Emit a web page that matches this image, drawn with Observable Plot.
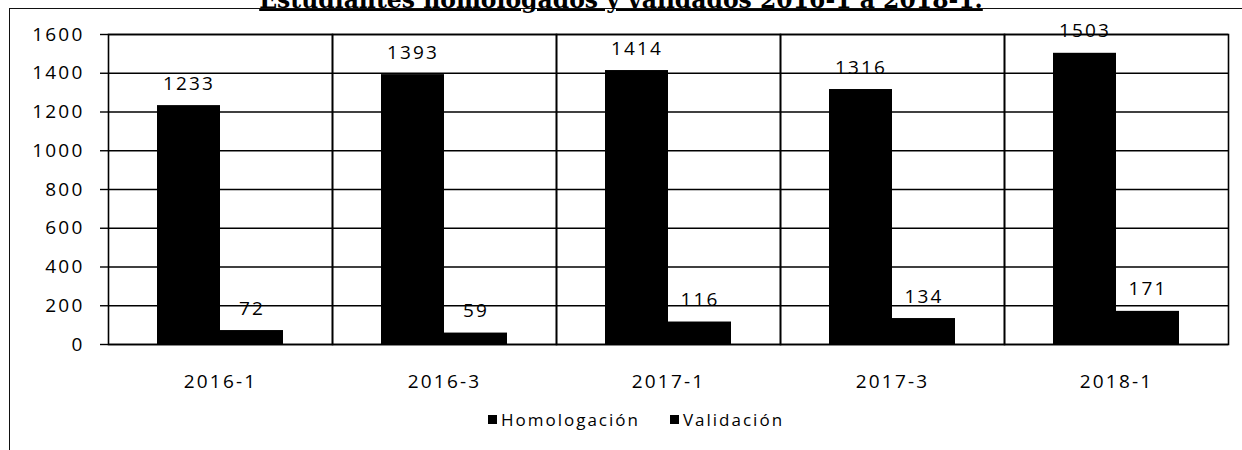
<!DOCTYPE html>
<html>
<head>
<meta charset="utf-8">
<script src="https://cdn.jsdelivr.net/npm/d3@7"></script>
<script src="https://cdn.jsdelivr.net/npm/@observablehq/plot@0.6"></script>
<style>
  html, body { margin: 0; padding: 0; background: #fff; overflow: hidden; }
  body { width: 1242px; height: 450px; position: relative; }
  #box { position: absolute; left: 9px; top: 8px; width: 1400px; height: 600px;
         border-left: 1.5px solid #111; border-top: 1.5px solid #111; }
  #title { position: absolute; left: 0; width: 1242px; top: -12px; text-align: center;
           font-family: "DejaVu Serif", serif; font-weight: bold; font-size: 23.5px; line-height: 24px;
           text-decoration: underline; text-decoration-thickness: 1.5px; color: #000; white-space: nowrap; }
  #chart { position: absolute; left: 0; top: 0; }
  #legend { position: absolute; left: 30px; width: 1242px; top: 403px; display: flex; justify-content: center; }
  .lg-swatch { margin-right: 30px !important; font-family: "Open Sans", sans-serif; font-size: 17px; letter-spacing: 2px; color: #000; align-items: center !important; }
  .lg-swatch svg { margin-right: 4px !important; }
</style>
</head>
<body>
<div id="box"></div>
<div id="title">Estudiantes homologados y validados 2016-1 a 2018-1.</div>
<div id="chart"></div>
<div id="legend"></div>
<script>
const periodos = ["2016-1", "2016-3", "2017-1", "2017-3", "2018-1"];
const series = ["Homologación", "Validación"];
const homologacion = [1233, 1393, 1414, 1316, 1503];
const validacion = [72, 59, 116, 134, 171];
const yTicks = [0, 200, 400, 600, 800, 1000, 1200, 1400, 1600];
const colores = ["#000000", "#000000"];

const data = periodos.flatMap((p, i) => [
  {periodo: p, serie: series[0], valor: homologacion[i]},
  {periodo: p, serie: series[1], valor: validacion[i]}
]);

const chart = Plot.plot({
  width: 1242,
  height: 400,
  marginLeft: 107,
  marginRight: 13,
  marginTop: 34,
  marginBottom: 56,
  style: {fontFamily: "Open Sans, sans-serif", fontSize: "19px", color: "#000", background: "transparent", letterSpacing: "2.2px"},
  fx: {domain: periodos, padding: 0, label: null},
  x: {domain: series, paddingInner: 0, paddingOuter: 0.765, axis: null},
  y: {domain: [0, 1600], label: null},
  color: {domain: series, range: colores},
  marks: [
    Plot.gridY(yTicks, {stroke: "#000", strokeOpacity: 1, strokeWidth: 1.4}),
    Plot.axisY(yTicks, {tickSize: 8, tickPadding: 16, label: null, strokeWidth: 1.4, tickFormat: d => String(d)}),
    Plot.barY(data, {fx: "periodo", x: "serie", y: "valor", fill: "serie"}),
    Plot.text(data, {fx: "periodo", x: "serie", y: "valor", text: d => String(d.valor), dy: -22, fontSize: 19, fill: "#000"}),
    Plot.frame({stroke: "#000", strokeWidth: 1.6}),
    Plot.axisFx({anchor: "bottom", tickSize: 0, tickPadding: 30, label: null})
  ]
});
document.getElementById("chart").appendChild(chart);

const legend = Plot.legend({
  color: {type: "ordinal", domain: series, range: colores},
  swatchSize: 9,
  className: "lg"
});
document.getElementById("legend").appendChild(legend);
</script>
</body>
</html>
